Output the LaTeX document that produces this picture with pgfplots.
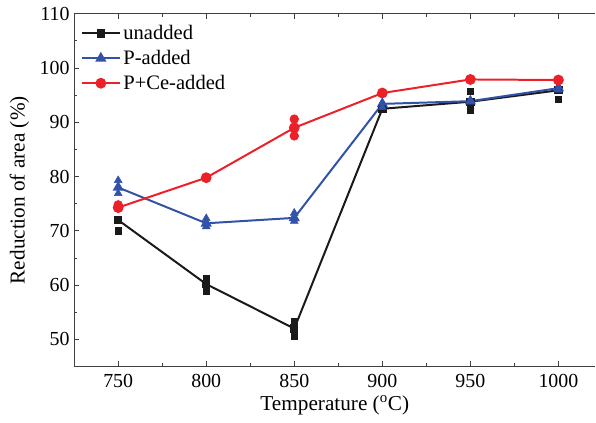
\documentclass[border={4pt 2pt 0pt 2pt}]{standalone}
\usepackage{fontspec}
\setmainfont{Liberation Serif}
\usepackage{pgfplots}
\pgfplotsset{compat=1.18}

\definecolor{cblack}{RGB}{26,26,26}
\definecolor{cblue}{RGB}{50,82,168}
\definecolor{cred}{RGB}{236,32,40}

\begin{document}
\begin{tikzpicture}
\begin{axis}[
  scale only axis,
  width=393pt, height=266pt,
  xmin=725, xmax=1021,
  ymin=45, ymax=110,
  axis y line*=left,
  xtick={750,800,...,1000},
  ytick={50,60,...,110},
  minor x tick num=1,
  minor y tick num=1,
  tick align=inside,
  major tick length=4pt,
  minor tick length=2.5pt,
  xtick pos=both,
  xticklabel pos=bottom,
  tick style={line width=0.8pt, color=black!75},
  axis line style={line width=0.9pt, color=black!75},
  /pgf/number format/assume math mode=true,
  /pgf/number format/1000 sep={},
  ticklabel style={font=\fontsize{15}{17}\selectfont},
  xticklabel style={yshift=-2pt},
  label style={font=\fontsize{16}{18}\selectfont},
  ylabel shift=1pt,
  xlabel shift=-1pt,
  xlabel={Temperature (\textsuperscript{o}C)},
  ylabel={Reduction of area (\%)},
  legend style={draw=none, fill=none, at={(0.005,0.983)}, anchor=north west,
    font=\fontsize{15.5}{17}\selectfont, row sep=2.5pt},
  legend cell align=left,
  legend image code/.code={
    \draw[mark repeat=2, mark phase=2] plot coordinates {(0cm,0cm) (0.5cm,0cm) (1cm,0cm)};
  },
]
% mean curves
\addplot[cblack, line width=1.5pt, mark=square*, mark size=2.4pt] coordinates {
  (750,72.0) (800,60.2) (850,52.0) (900,92.5) (950,93.8) (1000,95.9)};
\addlegendentry{unadded}
\addplot[cblue, line width=1.5pt, mark=triangle*, mark size=3.4pt] coordinates {
  (750,78.0) (800,71.4) (850,72.4) (900,93.4) (950,93.9) (1000,96.3)};
\addlegendentry{P-added}
\addplot[cred, line width=1.5pt, mark=*, mark size=3.3pt] coordinates {
  (750,74.3) (800,79.8) (850,89.0) (900,95.4) (950,97.9) (1000,97.8)};
\addlegendentry{P+Ce-added}
% individual specimens
\addplot[only marks, cblack, mark=square*, mark size=2.4pt, forget plot] coordinates {
  (750,72.0) (750,70.0)
  (800,61.2) (800,60.0) (800,59.0)
  (850,53.3) (850,52.0) (850,50.7)
  (900,92.5)
  (950,95.7) (950,92.3)
  (1000,96.0) (1000,94.2)};
\addplot[only marks, cblue, mark=triangle*, mark size=3.4pt, forget plot] coordinates {
  (750,79.3) (750,78.0) (750,76.9)
  (800,72.3) (800,71.5) (800,70.8)
  (850,73.3) (850,72.5) (850,71.8)
  (900,93.6) (900,92.8)
  (950,94.0) (950,93.8)
  (1000,96.6) (1000,96.0)};
\addplot[only marks, cred, mark=*, mark size=3.3pt, forget plot] coordinates {
  (750,74.8) (750,74.2)
  (800,79.8)
  (850,90.6) (850,89.0) (850,87.5)
  (900,95.4)
  (950,97.9)
  (1000,97.8) (1000,97.7)};
\end{axis}
\end{tikzpicture}
\end{document}
